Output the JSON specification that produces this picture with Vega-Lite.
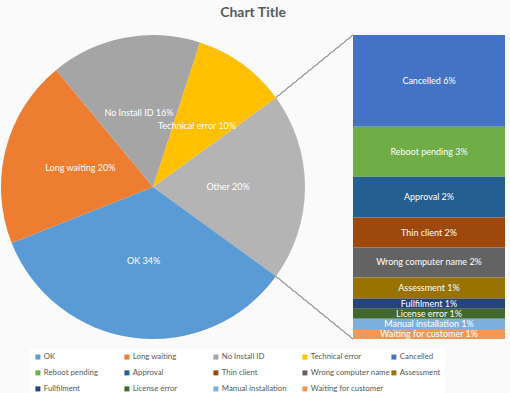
{
  "$schema": "https://vega.github.io/schema/vega-lite/v6.json",
  "background": "#FAFAFA",
  "padding": {"left": 1, "top": 5, "right": 5, "bottom": 0},
  "autosize": {"type": "pad"},
  "bounds": "flush",
  "title": {"text": "Chart Title", "fontSize": 14, "font": "Lato", "fontWeight": "bold", "color": "#595959", "offset": 15, "anchor": "middle"},
  "config": {"view": {"stroke": null}, "font": "Lato"},
  "spacing": 48,
  "resolve": {"scale": {"color": "shared"}},
  "hconcat": [
    {
      "width": 304,
      "height": 304,
      "data": {"values": [
        {"category": "Other", "label": "Other 20%", "value": 20, "idx": 1},
        {"category": "OK", "label": "OK 34%", "value": 34, "idx": 2},
        {"category": "Long waiting", "label": "Long waiting 20%", "value": 20, "idx": 3},
        {"category": "No  Install ID", "label": "No  Install ID 16%", "value": 16, "idx": 4},
        {"category": "Technical error", "label": "Technical error 10%", "value": 10, "idx": 5}
      ]},
      "encoding": {
        "theta": {"field": "value", "type": "quantitative", "stack": true, "scale": {"range": [0.9425, 7.2257]}},
        "order": {"field": "idx", "type": "quantitative", "sort": "ascending"}
      },
      "layer": [
        {
          "mark": {"type": "arc", "radius": 152},
          "encoding": {
            "color": {
              "field": "category", "type": "nominal",
              "scale": {
                "domain": ["OK", "Long waiting", "No  Install ID", "Technical error", "Cancelled", "Reboot pending", "Approval", "Thin client", "Wrong computer name", "Assessment", "Fullfilment", "License error", "Manual installation", "Waiting for customer", "Other"],
                "range": ["#5B9BD5", "#ED7D31", "#A5A5A5", "#FFC000", "#4472C4", "#70AD47", "#255E91", "#9E480E", "#636363", "#997300", "#264478", "#43682B", "#7CAFDD", "#F1975A", "#B4B4B4"]
              },
              "legend": {
                "orient": "none", "legendX": 29, "legendY": 314,
                "direction": "horizontal", "columns": 5,
                "values": ["OK", "Long waiting", "No  Install ID", "Technical error", "Cancelled", "Reboot pending", "Approval", "Thin client", "Wrong computer name", "Assessment", "Fullfilment", "License error", "Manual installation", "Waiting for customer"],
                "symbolType": "square", "symbolSize": 25, "symbolStrokeWidth": 0,
                "labelFontSize": 7.8, "labelFont": "Lato", "labelColor": "#595959", "labelOffset": 2,
                "title": null, "gridAlign": "all", "columnPadding": 0, "rowPadding": 7,
                "fillColor": "white", "padding": 4
              }
            }
          }
        },
        {
          "mark": {"type": "text", "radius": 75, "fontSize": 9, "font": "Lato"},
          "encoding": {
            "text": {"field": "label"},
            "color": {"value": "white"}
          }
        }
      ]
    },
    {
      "width": 152,
      "height": 304,
      "data": {"values": [
        {"category": "Cancelled", "label": "Cancelled 6%", "value": 6.03, "idx": 1},
        {"category": "Reboot pending", "label": "Reboot pending 3%", "value": 3.3, "idx": 2},
        {"category": "Approval", "label": "Approval 2%", "value": 2.68, "idx": 3},
        {"category": "Thin client", "label": "Thin client 2%", "value": 1.97, "idx": 4},
        {"category": "Wrong computer name", "label": "Wrong computer name 2%", "value": 1.97, "idx": 5},
        {"category": "Assessment", "label": "Assessment 1%", "value": 1.39, "idx": 6},
        {"category": "Fullfilment", "label": "Fullfilment 1%", "value": 0.665, "idx": 7},
        {"category": "License error", "label": "License error 1%", "value": 0.665, "idx": 8},
        {"category": "Manual installation", "label": "Manual installation 1%", "value": 0.665, "idx": 9},
        {"category": "Waiting for customer", "label": "Waiting for customer 1%", "value": 0.665, "idx": 10}
      ]},
      "transform": [
        {"stack": "value", "groupby": [], "sort": [{"field": "idx", "order": "descending"}], "as": ["v0", "v1"]},
        {"calculate": "(datum.v0 + datum.v1) / 2", "as": "mid"}
      ],
      "layer": [
        {
          "mark": {"type": "rect"},
          "encoding": {
            "x": {"datum": 0, "type": "quantitative", "scale": {"domain": [0, 1]}, "axis": null},
            "x2": {"datum": 1},
            "y": {"field": "v0", "type": "quantitative", "scale": {"domain": [0, 20]}, "axis": null},
            "y2": {"field": "v1"},
            "color": {"field": "category", "type": "nominal"}
          }
        },
        {
          "mark": {"type": "text", "fontSize": 9, "font": "Lato", "color": "white"},
          "encoding": {
            "x": {"datum": 0.5, "type": "quantitative"},
            "y": {"field": "mid", "type": "quantitative"},
            "text": {"field": "label"}
          }
        },
        {
          "mark": {"type": "rule", "color": "#A6A6A6", "strokeWidth": 1},
          "encoding": {
            "x": {"datum": -0.507, "type": "quantitative"},
            "y": {"datum": 15.88, "type": "quantitative"},
            "x2": {"datum": 0},
            "y2": {"datum": 20}
          }
        },
        {
          "mark": {"type": "rule", "color": "#A6A6A6", "strokeWidth": 1},
          "encoding": {
            "x": {"datum": -0.507, "type": "quantitative"},
            "y": {"datum": 4.12, "type": "quantitative"},
            "x2": {"datum": 0},
            "y2": {"datum": 0}
          }
        }
      ]
    }
  ]
}
